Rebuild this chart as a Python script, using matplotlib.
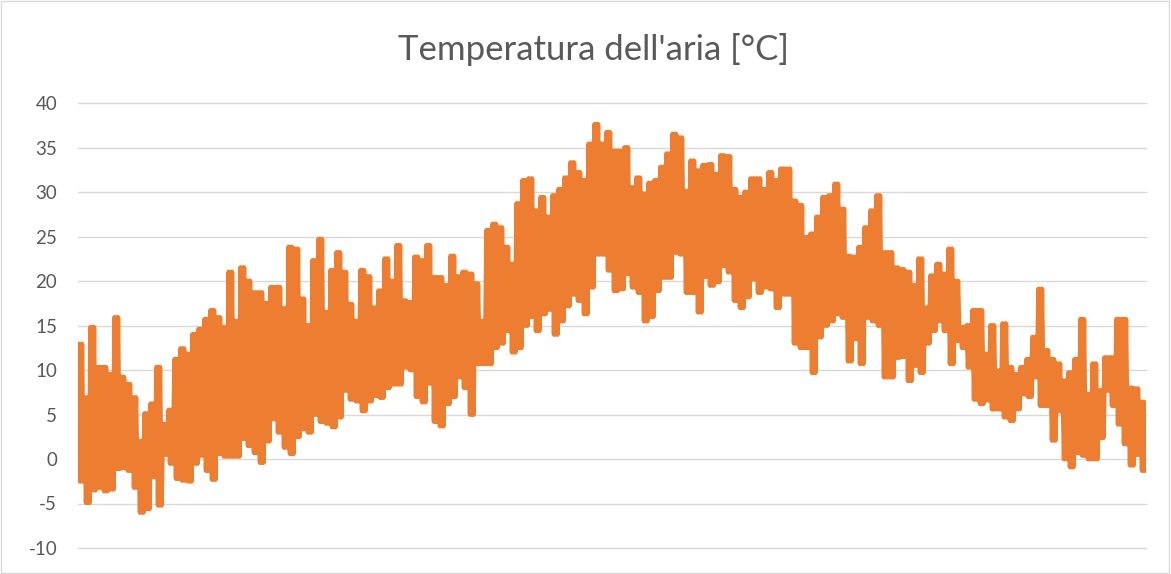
import matplotlib
matplotlib.use("Agg")
import matplotlib.pyplot as plt
from matplotlib.patches import Rectangle
import numpy as np

plt.rcParams['font.family'] = ['Lato', 'DejaVu Sans']

title = "Temperatura dell'aria [°C]"
yticks = [-10, -5, 0, 5, 10, 15, 20, 25, 30, 35, 40]

# Periodic maxima / minima (left to right)
temp_max = [
    12.9, 6.9, 14.8, 10.3, 10.3, 9.5, 15.9, 9.2, 8.4, 6.9, 2.0, 5.1, 6.2, 10.3, 3.9,
    5.5, 11.2, 12.4, 11.8, 14.0, 14.6, 15.7, 16.7, 15.9, 14.8, 21.0, 15.5, 21.5, 20.0, 18.7,
    18.7, 17.5, 19.3, 19.3, 16.9, 23.8, 23.6, 18.0, 15.0, 22.3, 24.7, 16.5, 21.2, 23.2, 21.0,
    17.4, 15.5, 21.2, 20.5, 17.0, 18.9, 22.5, 20.0, 24.0, 17.8, 17.6, 22.7, 22.3, 24.0, 20.4,
    20.4, 19.5, 22.8, 20.5, 21.0, 20.8, 19.7, 15.5, 25.7, 26.4, 26.0, 23.8, 21.9, 28.7, 31.3,
    31.5, 27.9, 29.4, 27.2, 29.6, 30.3, 31.6, 33.3, 32.2, 31.3, 35.4, 37.6, 35.4, 36.7, 34.6,
    34.6, 35.0, 30.5, 31.6, 29.8, 31.0, 31.3, 32.8, 34.3, 36.5, 36.1, 30.1, 33.5, 32.4, 33.0,
    33.1, 32.0, 34.1, 34.0, 30.3, 29.4, 30.0, 31.5, 31.5, 30.3, 32.2, 31.3, 32.6, 32.6, 29.0,
    28.5, 24.9, 25.3, 27.2, 29.4, 29.6, 30.9, 28.1, 22.8, 22.7, 23.8, 26.0, 27.9, 29.6, 23.2,
    23.2, 21.5, 21.3, 21.0, 19.5, 22.5, 17.0, 20.6, 21.9, 20.8, 23.6, 20.0, 14.8, 15.0, 16.7,
    16.7, 11.8, 15.0, 9.9, 15.2, 10.3, 9.5, 10.3, 11.2, 13.7, 19.1, 12.2, 11.2, 10.7, 8.8,
    9.7, 11.2, 15.7, 7.3, 10.7, 7.7, 11.4, 11.4, 15.7, 15.7, 8.0, 7.9, 6.4,
]
temp_min = [
    -2.5, -4.9, -3.5, -3.2, -3.6, -3.4, -1.1, -1.0, -1.3, -3.2, -6.0, -5.6, -2.0, -5.2, 0.5,
    -0.5, -2.2, -2.4, -2.5, -0.5, 0.4, -1.3, -2.3, 0.6, 0.3, 0.3, 0.3, 2.3, 1.5, 0.7,
    -0.4, 2.0, 4.5, 3.0, 1.3, 0.6, 2.5, 3.4, 3.0, 5.0, 4.2, 4.0, 3.6, 4.7, 7.7,
    6.7, 6.5, 5.4, 6.5, 7.1, 6.9, 8.0, 8.4, 8.4, 10.3, 10.0, 7.0, 6.4, 8.5, 4.2,
    3.7, 6.2, 7.0, 9.2, 8.0, 5.0, 10.7, 10.7, 10.7, 12.5, 13.0, 14.4, 12.0, 12.5, 15.0,
    16.0, 14.4, 16.3, 16.8, 14.0, 15.5, 17.2, 18.5, 17.8, 16.3, 19.3, 23.0, 23.0, 21.2, 18.9,
    19.1, 20.8, 19.3, 18.7, 15.5, 16.0, 18.9, 20.4, 20.4, 23.2, 23.0, 18.7, 18.7, 16.5, 20.5,
    19.5, 19.9, 21.7, 21.0, 17.8, 17.0, 18.2, 20.2, 18.7, 19.3, 19.1, 17.0, 18.5, 18.5, 13.0,
    12.5, 12.5, 9.7, 13.7, 15.0, 15.5, 16.3, 15.9, 11.0, 13.5, 10.7, 15.9, 15.5, 15.0, 9.2,
    9.2, 11.4, 11.5, 8.8, 10.5, 9.7, 13.0, 14.4, 15.5, 14.4, 10.7, 13.3, 12.5, 10.3, 6.7,
    6.2, 6.6, 5.6, 5.6, 4.7, 4.3, 5.6, 7.3, 7.0, 9.2, 6.0, 6.0, 2.1, 5.4, 0.0,
    -0.9, 0.7, 0.4, 0.0, 0.0, 2.4, 7.7, 6.0, 3.9, 1.7, -0.7, 0.5, -1.3,
]

n = len(temp_max)
idx = np.arange(n)
# each period drawn as a double max/min swing, as the dense hourly trace looks
offsets_hi = [0.125, 0.625]
offsets_lo = [0.375, 0.875]
xs = np.empty(4 * n)
ys = np.empty(4 * n)
xs[0::4] = idx + offsets_hi[0]
xs[1::4] = idx + offsets_lo[0]
xs[2::4] = idx + offsets_hi[1]
xs[3::4] = idx + offsets_lo[1]
ys[0::4] = temp_max
ys[1::4] = temp_min
ys[2::4] = temp_max
ys[3::4] = temp_min

fig = plt.figure(figsize=(11.71, 5.74), dpi=100)
fig.patches.append(Rectangle((0.0005, 0.001), 0.998, 0.997, transform=fig.transFigure,
                             fill=False, edgecolor='#D9D9D9', linewidth=1.0))
ax = fig.add_axes([78 / 1171, 1 - 548 / 574, (1146 - 78) / 1171, (548 - 103) / 574])

ax.plot(xs, ys, color='#ED7D31', linewidth=3.6, solid_capstyle='round',
        solid_joinstyle='round', zorder=3)

ax.set_xlim(0, n)
ax.set_ylim(-10, 40)
ax.set_yticks(yticks)
ax.set_yticklabels([str(v) for v in yticks])
ax.yaxis.grid(True, color='#D9D9D9', linewidth=1.0)
for gl in ax.get_ygridlines():
    gl.set_clip_on(False)
ax.set_axisbelow(True)
ax.set_xticks([])
for s in ax.spines.values():
    s.set_visible(False)
ax.tick_params(axis='y', length=0, pad=15, labelsize=13.5, labelcolor='#595959')

fig.text(0.5065, 1 - 49 / 574, title, ha='center', va='center', fontsize=25,
         color='#595959')

fig.savefig('out.png', dpi=100)
